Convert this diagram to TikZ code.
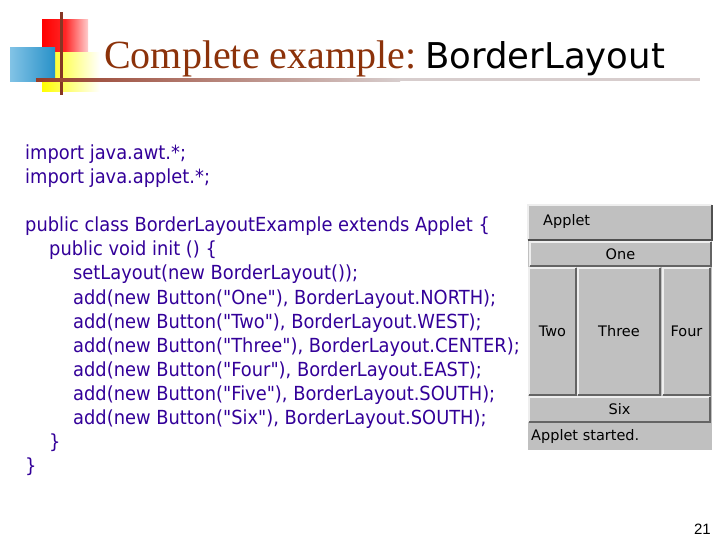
\documentclass[tikz,border=0pt]{standalone}
\usepackage{fontspec}
\setmainfont{Liberation Serif}
\newfontfamily\codefont{DejaVu Sans}
\newfontfamily\codenarrow[FakeStretch=0.92]{DejaVu Sans}
\newfontfamily\arialfont{Liberation Sans}
\definecolor{codeblue}{RGB}{51,0,153}
\definecolor{titlebrown}{RGB}{140,50,10}
\definecolor{linebrown}{RGB}{150,60,40}
\definecolor{linefade}{RGB}{215,205,205}
\definecolor{appgray}{RGB}{192,192,192}
\definecolor{bevlight}{RGB}{238,238,238}
\definecolor{bevdark}{RGB}{100,100,100}
\definecolor{logored}{RGB}{255,0,0}
\definecolor{logopink}{RGB}{255,205,205}
\definecolor{logoyellow}{RGB}{255,255,0}
\definecolor{bluelight}{RGB}{130,195,230}
\definecolor{bluedark}{RGB}{40,145,200}
\newcommand\mybevel[1]{%
  \draw[bevlight,line width=1.5bp] (#1.south west) -- (#1.north west) -- (#1.north east);
  \draw[bevdark,line width=1.5bp] (#1.south west) -- (#1.south east) -- (#1.north east);}
\begin{document}
\begin{tikzpicture}[x=1bp,y=-1bp,
  codeline/.style={anchor=base west, inner sep=0, text=codeblue,
    font=\codenarrow\fontsize{19.4bp}{22bp}\selectfont},
  btnbox/.style={rectangle, fill=appgray, inner sep=0,
    font=\codefont\fontsize{14.5bp}{16bp}\selectfont, text=black},
  apptext/.style={anchor=west, inner sep=0,
    font=\codefont\fontsize{14.5bp}{16bp}\selectfont, text=black}]
\useasboundingbox[fill=white] (0,0) rectangle (720,540);

% logo
\shade[left color=logored, right color=logopink, middle color=logored!85!white] (42,20) rectangle (88,53);
\shade[left color=logoyellow, right color=white] (42,53) rectangle (100,92);
\shade[left color=bluelight, right color=bluedark] (10,48) rectangle (55,82);
\fill[linebrown!90!black] (59.5,12) rectangle (62.5,95);
\shade[left color=linebrown, right color=linefade] (36,78.5) rectangle (400,81.5);
\fill[linefade] (400,78.5) rectangle (700,81.5);

% title
\node[anchor=base west, inner sep=0, text=titlebrown, font=\fontsize{40bp}{44bp}\selectfont] (title) at (104,69) {Complete example:};
\node[anchor=base west, inner sep=0, text=black, font=\codefont\fontsize{35.5bp}{40bp}\selectfont] (titlesans) at (425,69) {BorderLayout};

% code
\node[codeline] (c1) at (25,160) {import java.awt.*;};
\node[codeline] (c2) at (25,184) {import java.applet.*;};
\node[codeline] (c3) at (25,232) {public class BorderLayoutExample extends Applet \{};
\node[codeline] (c4) at (49,256) {public void init () \{};
\node[codeline] (c5) at (73,280) {setLayout(new BorderLayout());};
\node[codeline] (c6) at (73,304) {add(new Button("One"), BorderLayout.NORTH);};
\node[codeline] (c7) at (73,328) {add(new Button("Two"), BorderLayout.WEST);};
\node[codeline] (c8) at (73,352) {add(new Button("Three"), BorderLayout.CENTER);};
\node[codeline] (c9) at (73,376) {add(new Button("Four"), BorderLayout.EAST);};
\node[codeline] (c10) at (73,400) {add(new Button("Five"), BorderLayout.SOUTH);};
\node[codeline] (c11) at (73,424) {add(new Button("Six"), BorderLayout.SOUTH);};
\node[codeline] (c12) at (49,448) {\}};
\node[codeline] (c13) at (25,472) {\}};

% applet
\fill[appgray] (528,205) rectangle (712,450);
\node[btnbox, minimum width=184bp, minimum height=35bp] (tbar) at (620,222.5) {};
\draw[bevlight,line width=1.5bp] (tbar.south west) -- (tbar.north west) -- (tbar.north east);
\draw[bevdark!80!black,line width=2bp] (tbar.south west) -- (tbar.south east) -- (tbar.north east);
\node[apptext] (tbartext) at (543,221) {Applet};

\node[btnbox, minimum width=181bp, minimum height=24bp] (one) at (620.5,254) {One};
\mybevel{one}
\node[btnbox, minimum width=47bp, minimum height=127bp] (two) at (552.5,331.5) {Two};
\mybevel{two}
\node[btnbox, minimum width=82bp, minimum height=127bp] (three) at (619,331.5) {Three};
\mybevel{three}
\node[btnbox, minimum width=47bp, minimum height=127bp] (four) at (686.5,331.5) {Four};
\mybevel{four}
\node[btnbox, minimum width=181bp, minimum height=25bp] (six) at (619.5,409.5) {Six};
\mybevel{six}
\node[apptext] (status) at (531,436) {Applet started.};

% page number
\node[anchor=base east, inner sep=0, font=\arialfont\fontsize{15bp}{17bp}\selectfont] (pnum) at (711,534) {21};
\end{tikzpicture}
\end{document}
